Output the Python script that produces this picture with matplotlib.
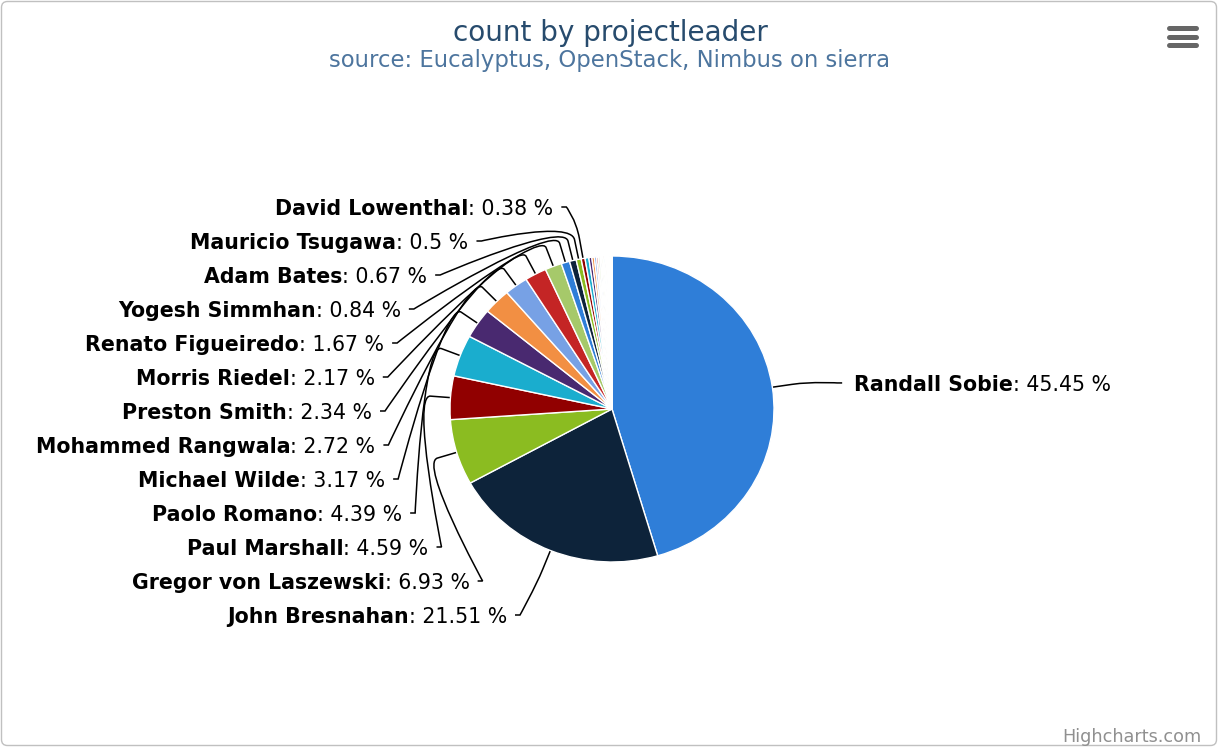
import numpy as np
import matplotlib.pyplot as plt
from matplotlib.path import Path
from matplotlib.patches import PathPatch, FancyBboxPatch

W, H = 1219, 749

# labelled project leaders, clockwise from 12 o'clock
leaders = ['Randall Sobie', 'John Bresnahan', 'Gregor von Laszewski', 'Paul Marshall',
           'Paolo Romano', 'Michael Wilde', 'Mohammed Rangwala', 'Preston Smith',
           'Morris Riedel', 'Renato Figueiredo', 'Yogesh Simmhan', 'Adam Bates',
           'Mauricio Tsugawa', 'David Lowenthal']
shares = [45.45, 21.51, 6.93, 4.59, 4.39, 3.17, 2.72, 2.34, 2.17, 1.67, 0.84, 0.67, 0.5, 0.38]
share_text = ['45.45', '21.51', '6.93', '4.59', '4.39', '3.17', '2.72', '2.34', '2.17',
              '1.67', '0.84', '0.67', '0.5', '0.38']
# small leaders whose labels highcharts hid (estimated, they sum to the rest)
small_shares = [0.38, 0.30, 0.25, 0.21, 0.17, 0.17, 0.13, 0.13, 0.13, 0.08, 0.08, 0.08,
                0.08, 0.08, 0.04, 0.04, 0.04, 0.04, 0.04, 0.04, 0.04, 0.04, 0.04, 0.04]

palette = ['#2f7ed8', '#0d233a', '#8bbc21', '#910000', '#1aadce',
           '#492970', '#f28f43', '#77a1e5', '#c42525', '#a6c96a']

values = shares + small_shares
colors = [palette[i % len(palette)] for i in range(len(values))]

# pie geometry in pixels (the picture is a bit wider than tall)
cx, cy, rx, ry = 612, 409, 162, 153
lab_rx = 232
lab_ry_top, lab_ry_bottom = 207, 211
max_swing_bottom = 135
left_bottom, left_step = 615, 34

fig = plt.figure(figsize=(W / 100, H / 100), dpi=100)
bg = fig.add_axes([0, 0, 1, 1])
bg.set_xlim(0, W)
bg.set_ylim(H, 0)
bg.axis('off')

bg.add_patch(FancyBboxPatch((1.5, 1.5), W - 4, H - 5, boxstyle='round,pad=0,rounding_size=6',
                            ec='#c0c0c0', fc='white', lw=1, zorder=0))

pax = fig.add_axes([(cx - rx) / W, (H - cy - ry) / H, 2 * rx / W, 2 * ry / H])
pax.pie(values, colors=colors, startangle=90, counterclock=False,
        wedgeprops=dict(edgecolor='white', linewidth=1))
pax.set_aspect('auto')
pax.set_xlim(-1, 1)
pax.set_ylim(-1, 1)
pax.axis('off')

bg.text(610, 33, 'count by projectleader', ha='center', va='center', fontsize=20.1, color='#274b6d')
bg.text(610, 61, 'source: Eucalyptus, OpenStack, Nimbus on sierra', ha='center', va='center',
        fontsize=16.4, color='#4d759e')

renderer = fig.canvas.get_renderer()
fs = 14.8
total = sum(values)
cum = 0.0
k = 0
for name, v, txt in zip(leaders, shares, share_text):
    mid = (cum + v / 2) / total
    cum += v
    th = np.deg2rad(90 - 360 * mid)
    land = np.array([cx + rx * np.cos(th), cy - ry * np.sin(th)])
    brk = np.array([cx + (rx + 20) * np.cos(th), cy - (ry + 20) * np.sin(th)])
    if np.cos(th) > 0:
        side = 1
        y = cy - (ry + 30) * np.sin(th)
    else:
        side = -1
        y = left_bottom - left_step * k
        k += 1
    dy = y - cy
    lab_ry = lab_ry_top if dy < 0 else lab_ry_bottom
    swing = lab_rx * (1 - np.cos(np.arcsin(np.clip(dy / lab_ry, -1, 1))))
    if dy > 0:
        swing = min(swing, max_swing_bottom)
    xs = cx + side * (lab_rx - swing)
    p1 = (xs - side * 5, y)
    verts = [(xs, y), p1, p1, tuple(2 * brk - land), tuple(brk), tuple(land)]
    codes = [Path.MOVETO, Path.LINETO, Path.CURVE4, Path.CURVE4, Path.CURVE4, Path.LINETO]
    bg.add_patch(PathPatch(Path(verts, codes), fc='none', ec='black', lw=1.1, zorder=1))

    ty = y + 2
    if side > 0:
        t1 = bg.text(xs + 12, ty, name, ha='left', va='center', fontsize=fs, fontweight='bold')
        w = t1.get_window_extent(renderer).width
        bg.text(xs + 12 + w, ty, ': ' + txt + ' %', ha='left', va='center', fontsize=fs)
    else:
        t2 = bg.text(xs - 8, ty, ': ' + txt + ' %', ha='right', va='center', fontsize=fs)
        w = t2.get_window_extent(renderer).width
        bg.text(xs - 8 - w, ty, name, ha='right', va='center', fontsize=fs, fontweight='bold')

# export menu icon
for yy in (28, 37, 45):
    bg.plot([1169, 1196], [yy, yy], color='#666666', lw=3.6, solid_capstyle='round')

bg.text(1201, 737, 'Highcharts.com', ha='right', va='center', fontsize=12.7, color='#909090')

fig.savefig('out.png', dpi=100)
